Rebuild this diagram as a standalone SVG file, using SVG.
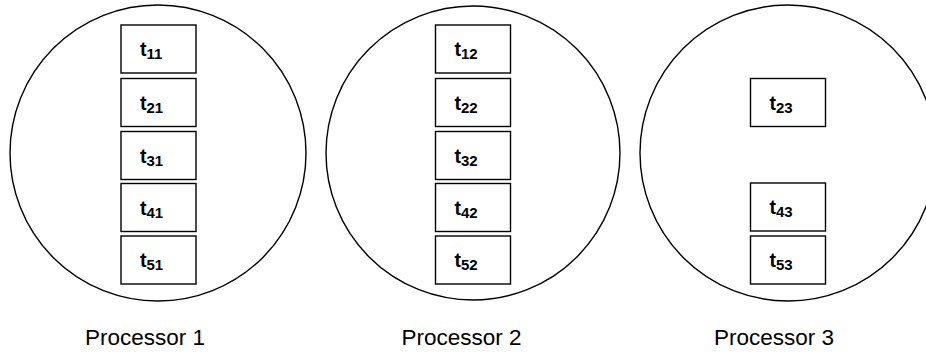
<svg xmlns="http://www.w3.org/2000/svg" width="926" height="352" viewBox="0 0 926 352">
<style>
.proc{fill:none;stroke:#000;stroke-width:1.4}
.box{fill:#fff;stroke:#000;stroke-width:1.4}
.t{font-family:"Liberation Sans",Arial,sans-serif;font-weight:bold;font-size:19.5px;fill:#000}
.sub{font-size:15px}
.lbl{font-family:"Liberation Sans",Arial,sans-serif;font-size:22.5px;fill:#000}
</style>
<rect width="926" height="352" fill="#fff"/>
<g id="processor1">
<circle class="proc" cx="158" cy="153" r="148"/>
<text class="lbl" x="85" y="345">Processor 1</text>
</g>
<g id="processor2">
<circle class="proc" cx="473" cy="153" r="147"/>
<text class="lbl" x="401.5" y="345">Processor 2</text>
</g>
<g id="processor3">
<circle class="proc" cx="788" cy="153" r="148"/>
<text class="lbl" x="714" y="345">Processor 3</text>
</g>
<g id="t11"><rect class="box" x="121" y="25" width="75" height="48"/><text class="t" x="140" y="56">t<tspan class="sub" dy="3">11</tspan></text></g>
<g id="t21"><rect class="box" x="121" y="78.5" width="75" height="48"/><text class="t" x="140" y="109.5">t<tspan class="sub" dy="3">21</tspan></text></g>
<g id="t31"><rect class="box" x="121" y="131.5" width="75" height="48"/><text class="t" x="140" y="162.5">t<tspan class="sub" dy="3">31</tspan></text></g>
<g id="t41"><rect class="box" x="121" y="183.5" width="75" height="48"/><text class="t" x="140" y="214.5">t<tspan class="sub" dy="3">41</tspan></text></g>
<g id="t51"><rect class="box" x="121" y="236" width="75" height="48"/><text class="t" x="140" y="267">t<tspan class="sub" dy="3">51</tspan></text></g>
<g id="t12"><rect class="box" x="435.5" y="25" width="75" height="48"/><text class="t" x="454.5" y="56">t<tspan class="sub" dy="3">12</tspan></text></g>
<g id="t22"><rect class="box" x="435.5" y="78.5" width="75" height="48"/><text class="t" x="454.5" y="109.5">t<tspan class="sub" dy="3">22</tspan></text></g>
<g id="t32"><rect class="box" x="435.5" y="131.5" width="75" height="48"/><text class="t" x="454.5" y="162.5">t<tspan class="sub" dy="3">32</tspan></text></g>
<g id="t42"><rect class="box" x="435.5" y="183.5" width="75" height="48"/><text class="t" x="454.5" y="214.5">t<tspan class="sub" dy="3">42</tspan></text></g>
<g id="t52"><rect class="box" x="435.5" y="236" width="75" height="48"/><text class="t" x="454.5" y="267">t<tspan class="sub" dy="3">52</tspan></text></g>
<g id="t23"><rect class="box" x="750.5" y="78.5" width="75" height="48"/><text class="t" x="769.5" y="109.5">t<tspan class="sub" dy="3">23</tspan></text></g>
<g id="t43"><rect class="box" x="750.5" y="183" width="75" height="48"/><text class="t" x="769.5" y="214">t<tspan class="sub" dy="3">43</tspan></text></g>
<g id="t53"><rect class="box" x="750.5" y="236" width="75" height="48"/><text class="t" x="769.5" y="267">t<tspan class="sub" dy="3">53</tspan></text></g>
<g id="connectors"></g>
</svg>
